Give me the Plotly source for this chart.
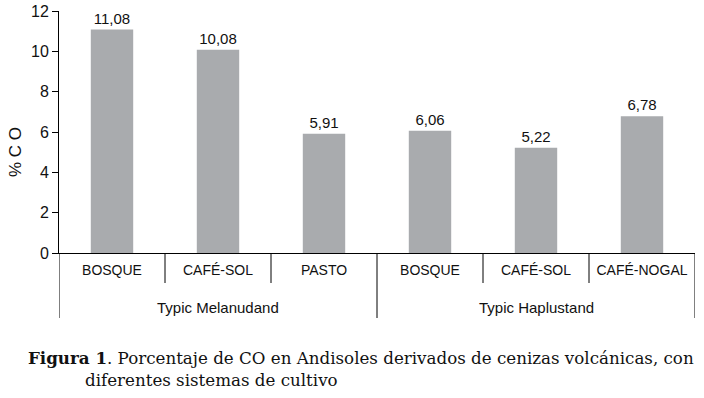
import plotly.graph_objects as go

groups = ["Typic Melanudand"] * 3 + ["Typic Haplustand"] * 3
categories = ["BOSQUE", "CAFÉ-SOL", "PASTO", "BOSQUE", "CAFÉ-SOL", "CAFÉ-NOGAL"]
values = [11.08, 10.08, 5.91, 6.06, 5.22, 6.78]
y_ticks = [0, 2, 4, 6, 8, 10, 12]

positions = list(range(len(categories)))

W, H = 704, 398
PL, PR, PT, PB = 59, 695, 11, 253  # plot area in page pixels
PLOT_W = PR - PL
PLOT_H = PB - PT


def px_x(x):
    return (x - PL) / PLOT_W


def px_y(y):
    return (PB - y) / PLOT_H


fig = go.Figure()
fig.add_trace(go.Bar(
    x=positions,
    y=values,
    width=0.4,
    marker=dict(color="#A9ABAE", line=dict(width=0)),
    texttemplate="%{y:.2f}",
    textposition="outside",
    textfont=dict(family="Liberation Sans", size=15, color="#111"),
    cliponaxis=False,
))

fig.update_layout(
    width=W, height=H,
    margin=dict(l=PL, r=W - PR, t=PT, b=H - PB),
    paper_bgcolor="white", plot_bgcolor="white",
    separators=",.",
    showlegend=False,
    font=dict(family="Liberation Sans", color="#111"),
    xaxis=dict(
        range=[-0.5, len(categories) - 0.5],
        tickvals=positions, ticktext=categories,
        showline=True, linecolor="black", linewidth=1,
        ticks="", ticklabelstandoff=4,
        tickfont=dict(family="Liberation Sans", size=14, color="#111"),
        showgrid=False, zeroline=False, automargin=False,
    ),
    yaxis=dict(
        range=[0, 12], tickvals=y_ticks,
        showline=True, linecolor="black", linewidth=1,
        ticks="outside", ticklen=6, tickcolor="black",
        showgrid=False, zeroline=False, automargin=False,
        tickfont=dict(family="Liberation Sans", size=16, color="#111"),
    ),
)

# y-axis title
fig.add_annotation(
    xref="paper", yref="paper", x=px_x(15), y=px_y(152),
    text="% C O", textangle=-90, showarrow=False,
    xanchor="center", yanchor="middle",
    font=dict(family="Liberation Sans", size=17, color="#111"),
)

# category boundaries and group dividers
group_names = []
for g in groups:
    if g not in group_names:
        group_names.append(g)
group_bounds = set()
for g in group_names:
    idx = [i for i, gg in enumerate(groups) if gg == g]
    group_bounds.add(min(idx) - 0.5)
    group_bounds.add(max(idx) + 0.5)
    fig.add_annotation(
        xref="x", yref="paper", x=sum(idx) / len(idx), y=px_y(307),
        text=g, showarrow=False, xanchor="center", yanchor="middle",
        font=dict(family="Liberation Sans", size=15, color="#111"),
    )
for i in range(len(categories) + 1):
    b = i - 0.5
    depth = 65 if b in group_bounds else 30
    fig.add_shape(
        type="line", xref="x", yref="paper", x0=b, x1=b, y0=0, y1=-depth / PLOT_H,
        line=dict(color="black", width=1),
    )

fig.add_annotation(
    xref="paper", yref="paper", x=px_x(26), y=px_y(358),
    xanchor="left", yanchor="middle",
    text="<b>Figura 1</b>. Porcentaje de CO en Andisoles derivados de cenizas volcánicas, con",
    showarrow=False, font=dict(family="DejaVu Serif", size=16.7, color="#111"),
)
fig.add_annotation(
    xref="paper", yref="paper", x=px_x(83), y=px_y(380),
    xanchor="left", yanchor="middle",
    text="diferentes sistemas de cultivo",
    showarrow=False, font=dict(family="DejaVu Serif", size=16.7, color="#111"),
)

fig.write_html(
    "out.html",
    config={"displayModeBar": False},
    post_script="document.body.style.margin='0';document.body.style.overflow='hidden';",
)
